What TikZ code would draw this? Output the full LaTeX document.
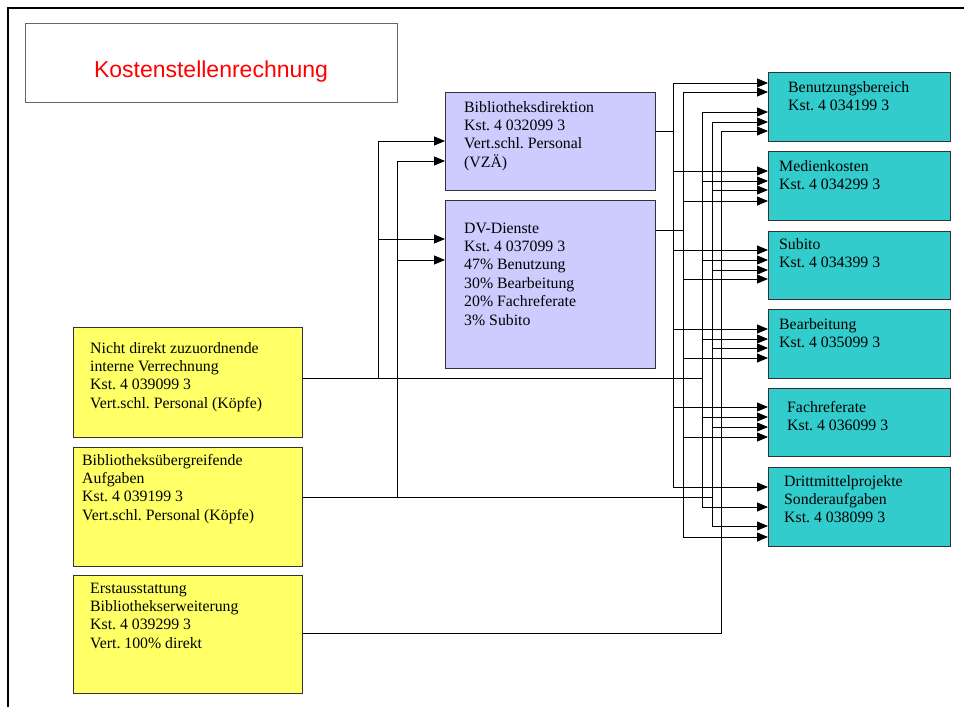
\documentclass[tikz,border=0pt]{standalone}
\usepackage{fontspec}
\setmainfont{Liberation Serif}
\newfontfamily\titlefont{Liberation Sans}
\usetikzlibrary{arrows.meta}
\definecolor{yel}{HTML}{FFFF66}
\definecolor{lav}{HTML}{CCCCFF}
\definecolor{tealbox}{HTML}{33CCCC}
\frenchspacing
\newcommand\boxlines[1]{\begin{tabular}[t]{@{}l@{}}#1\end{tabular}}
\begin{document}
\begin{tikzpicture}[x=1pt,y=-1pt,
  box/.style={draw=black!80, line width=0.9pt, inner sep=0pt, anchor=north west},
  txt/.style={anchor=base west, inner sep=0pt, font=\fontsize{15.8}{18.4}\selectfont},
  conn/.style={draw=black, line width=0.8pt},
  arr/.style={conn, -{Triangle[length=11pt,width=9pt]}}]
\useasboundingbox (0,0) rectangle (964,707);
% frame
\draw[line width=2pt] (8,707) -- (8,8) -- (964,8);
% title
\node[box, draw=black!60, minimum width=372pt, minimum height=79pt] (title) at (25,23) {};
\node[anchor=base, inner sep=0pt, text=red, font=\titlefont\fontsize{23}{27}\selectfont] (ttitle) at (211,77) {Kostenstellenrechnung};
% purple boxes
\node[box, fill=lav, minimum width=210pt, minimum height=98pt] (bd) at (445,92) {};
\node[box, fill=lav, minimum width=210pt, minimum height=168pt] (dv) at (445,200) {};
% yellow boxes
\node[box, fill=yel, minimum width=229pt, minimum height=110pt] (nd) at (73,327) {};
\node[box, fill=yel, minimum width=229pt, minimum height=119pt] (bu) at (73,447) {};
\node[box, fill=yel, minimum width=229pt, minimum height=118pt] (ea) at (73,575) {};
% teal boxes
\node[box, fill=tealbox, minimum width=182pt, minimum height=69pt] (benutz) at (768,72) {};
\node[box, fill=tealbox, minimum width=182pt, minimum height=69pt] (medien) at (768,151) {};
\node[box, fill=tealbox, minimum width=182pt, minimum height=68pt] (subito) at (768,231) {};
\node[box, fill=tealbox, minimum width=182pt, minimum height=69pt] (bearb) at (768,309) {};
\node[box, fill=tealbox, minimum width=182pt, minimum height=68pt] (fach) at (768,388) {};
\node[box, fill=tealbox, minimum width=182pt, minimum height=79pt] (dritt) at (768,467) {};
% texts
\node[txt] (tbd) at (464,112) {\boxlines{Bibliotheksdirektion\\Kst. 4 032099 3\\Vert.schl. Personal\\(VZÄ)}};
\node[txt] (tdv) at (464,233) {\boxlines{DV-Dienste\\Kst. 4 037099 3\\47\% Benutzung\\30\% Bearbeitung\\20\% Fachreferate\\3\% Subito}};
\node[txt] (tnd) at (90,353) {\boxlines{Nicht direkt zuzuordnende\\interne Verrechnung\\Kst. 4 039099 3\\Vert.schl. Personal (Köpfe)}};
\node[txt] (tbu) at (82,465) {\boxlines{Bibliotheksübergreifende\\Aufgaben\\Kst. 4 039199 3\\Vert.schl. Personal (Köpfe)}};
\node[txt] (tea) at (90,593) {\boxlines{Erstausstattung\\Bibliothekserweiterung\\Kst. 4 039299 3\\Vert. 100\% direkt}};
\node[txt] (tbenutz) at (788,92.5) {\boxlines{Benutzungsbereich\\Kst. 4 034199 3}};
\node[txt] (tmedien) at (779,171) {\boxlines{Medienkosten\\Kst. 4 034299 3}};
\node[txt] (tsubito) at (779,249) {\boxlines{Subito\\Kst. 4 034399 3}};
\node[txt] (tbearb) at (779,329) {\boxlines{Bearbeitung\\Kst. 4 035099 3}};
\node[txt] (tfach) at (787,412) {\boxlines{Fachreferate\\Kst. 4 036099 3}};
\node[txt] (tdritt) at (784,486) {\boxlines{Drittmittelprojekte\\Sonderaufgaben\\Kst. 4 038099 3}};
% connectors: Bibliotheksdirektion
\foreach \tg/\yy in {benutz/83,medien/171,subito/250,bearb/329,fach/407,dritt/487}
  \draw[arr] (bd.east |- 0,131) -- (673,131) -- (673,\yy) -- (\tg.west |- 0,\yy);
% DV-Dienste
\foreach \tg/\yy in {benutz/92,medien/201,subito/279,bearb/358,fach/437,dritt/537}
  \draw[arr] (dv.east |- 0,230) -- (683,230) -- (683,\yy) -- (\tg.west |- 0,\yy);
% Nicht direkt
\foreach \tg/\yy in {benutz/112,medien/181,subito/260,bearb/339,fach/417,dritt/507}
  \draw[arr] (nd.east |- 0,378) -- (702,378) -- (702,\yy) -- (\tg.west |- 0,\yy);
\foreach \tg/\yy in {bd/141,dv/239}
  \draw[arr] (nd.east |- 0,378) -- (378,378) -- (378,\yy) -- (\tg.west |- 0,\yy);
% Bibliotheksuebergreifend
\foreach \tg/\yy in {benutz/122,medien/190,subito/270,bearb/348,fach/427,dritt/526}
  \draw[arr] (bu.east |- 0,497) -- (712,497) -- (712,\yy) -- (\tg.west |- 0,\yy);
\foreach \tg/\yy in {bd/161,dv/260}
  \draw[arr] (bu.east |- 0,497) -- (397,497) -- (397,\yy) -- (\tg.west |- 0,\yy);
% Erstausstattung
\draw[arr] (ea.east |- 0,633) -- (721,633) -- (721,131) -- (benutz.west |- 0,131);
\end{tikzpicture}
\end{document}
